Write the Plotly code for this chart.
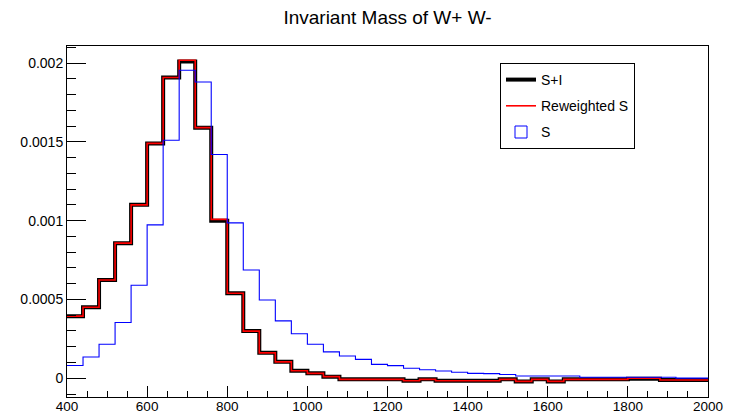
import plotly.graph_objects as go

# ---- data ----
bin_edges = list(range(400, 2001, 40))  # 40 bins of width 40

s_plus_i = [0.000394, 0.000450, 0.000623, 0.000857, 0.001100, 0.001490, 0.001908, 0.002010,
            0.001590, 0.000999, 0.000539, 0.000299, 0.000161, 0.000104, 0.000048, 0.000031,
            0.000010, -0.000007, -0.000007, -0.000007, -0.000007, -0.000016, -0.000007, -0.000016,
            -0.000016, -0.000016, -0.000016, -0.000007, -0.000020, -0.000007, -0.000020, -0.000007,
            -0.000007, -0.000007, -0.000007, -0.000003, -0.000003, -0.000011, -0.000011, -0.000011]

reweighted_s = [0.000394, 0.000450, 0.000623, 0.000857, 0.001100, 0.001490, 0.001908, 0.002018,
                0.001590, 0.001008, 0.000539, 0.000299, 0.000161, 0.000104, 0.000048, 0.000031,
                0.000010, -0.000007, -0.000007, -0.000007, -0.000007, -0.000016, -0.000007, -0.000016,
                -0.000016, -0.000016, -0.000016, -0.000007, -0.000020, -0.000007, -0.000020, -0.000007,
                -0.000007, -0.000007, -0.000007, 0.000000, 0.000000, -0.000011, -0.000011, -0.000011]

s_only = [0.000081, 0.000135, 0.000216, 0.000354, 0.000590, 0.000973, 0.001510, 0.001954,
          0.001880, 0.001420, 0.000986, 0.000687, 0.000496, 0.000364, 0.000282, 0.000216,
          0.000167, 0.000141, 0.000120, 0.000088, 0.000080, 0.000063, 0.000054, 0.000046,
          0.000038, 0.000031, 0.000029, 0.000024, 0.000014, 0.000014, 0.000014, 0.000014,
          0.000006, 0.000006, 0.000006, 0.000006, 0.000006, 0.000006, 0.000001, 0.000001]

names = ["S+I", "Reweighted S", "S"]
title_text = "Invariant Mass of W+ W-"


def step(vals):
    # left edges with values, plus the closing right edge
    return bin_edges, list(vals) + [vals[-1]]


FONT = "Liberation Sans, Arial, Helvetica, sans-serif"

fig = go.Figure()

x, y = step(s_plus_i)
fig.add_trace(go.Scatter(x=x, y=y, mode="lines", line=dict(shape="hv", color="#000000", width=4),
                         name=names[0], legendgroup="a", legendrank=1))
x, y = step(reweighted_s)
fig.add_trace(go.Scatter(x=x, y=y, mode="lines", line=dict(shape="hv", color="#ff0000", width=1.6),
                         name=names[1], legendgroup="b", legendrank=2))
x, y = step(s_only)
fig.add_trace(go.Scatter(x=x, y=y, mode="lines", line=dict(shape="hv", color="#0000ff", width=1.1),
                         name=names[2], showlegend=False))
# legend box entry for S (ROOT-style empty box)
fig.add_trace(go.Bar(x=[None], y=[None], name=names[2], legendgroup="c", legendrank=3,
                     marker=dict(color="rgba(255,255,255,0)", line=dict(color="#0000ff", width=1))))

fig.update_layout(
    width=731, height=414,
    margin=dict(l=67, r=731 - 708, t=46, b=414 - 397, autoexpand=False),
    paper_bgcolor="white", plot_bgcolor="white",
    font=dict(family=FONT, size=14, color="black"),
    title=dict(text=title_text, x=0.5, xref="paper", xanchor="center",
               y=1 - 17 / 414, yref="container", yanchor="middle",
               font=dict(family=FONT, size=19, color="black")),
    showlegend=True,
    legend=dict(x=(500 - 67) / 641, y=(397 - 63) / 351, xanchor="left", yanchor="top",
                bgcolor="white", bordercolor="black", borderwidth=1,
                font=dict(family=FONT, size=14, color="black"),
                tracegroupgap=5, traceorder="grouped"),
)

fig.update_xaxes(range=[400, 2000], showgrid=False, zeroline=False, automargin=False,
                 showline=True, linecolor="black", linewidth=1, mirror=True,
                 ticks="inside", ticklen=11, tickcolor="black", tickwidth=1,
                 tick0=400, dtick=200, tickfont=dict(size=13.5), ticklabelstandoff=-3,
                 minor=dict(ticks="inside", ticklen=6, tick0=400, dtick=50,
                            tickcolor="black", showgrid=False))
fig.update_yaxes(range=[-0.000119, 0.002108], showgrid=False, zeroline=False, automargin=False,
                 showline=True, linecolor="black", linewidth=1, mirror=True,
                 ticks="inside", ticklen=19, tickcolor="black", tickwidth=1,
                 tick0=0, dtick=0.0005, tickformat="~g", tickfont=dict(size=14),
                 minor=dict(ticks="inside", ticklen=9, tick0=0, dtick=0.0001,
                            tickcolor="black", showgrid=False))

fig.write_html("out.html", config={"displayModeBar": False},
               post_script="document.body.style.margin='0';")
